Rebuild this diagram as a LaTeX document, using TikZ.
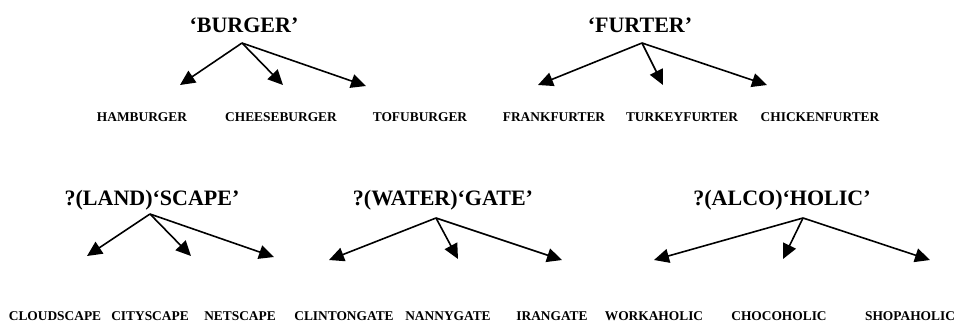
\documentclass[tikz,border=0pt]{standalone}
\usepackage{fontspec}
\setmainfont{Liberation Serif}
\usetikzlibrary{arrows.meta}
\begin{document}
\begin{tikzpicture}[x=1pt,y=-1pt,
  title/.style={anchor=base,inner sep=0pt,font=\fontsize{22}{24}\selectfont\bfseries},
  word/.style={anchor=base,inner sep=0pt,font=\fontsize{13.4}{15}\selectfont\bfseries},
  arr/.style={line width=1.6pt,-{Triangle[length=15pt,width=14pt]}}]
\useasboundingbox (0,0) rectangle (960,325);
% titles
\node[title] (burger) at (244,32) {‘BURGER’};
\node[title] (furter) at (640,32) {‘FURTER’};
\node[title] (scape) at (152,205) {?(LAND)‘SCAPE’};
\node[title] (gate) at (443,205) {?(WATER)‘GATE’};
\node[title] (holic) at (782,205) {?(ALCO)‘HOLIC’};
% apexes
\coordinate (a1) at (242,43);
\coordinate (a2) at (642,43);
\coordinate (a3) at (150,214);
\coordinate (a4) at (436,218);
\coordinate (a5) at (803,218);
% arrow ends
\coordinate (e11) at (180,85);
\coordinate (e12) at (283,85);
\coordinate (e13) at (366,86);
\coordinate (e21) at (538,85);
\coordinate (e22) at (663,85);
\coordinate (e23) at (767,85);
\coordinate (e31) at (87,256);
\coordinate (e32) at (191,256);
\coordinate (e33) at (274,257);
\coordinate (e41) at (329,260);
\coordinate (e42) at (458,259);
\coordinate (e43) at (562,260);
\coordinate (e51) at (654,260);
\coordinate (e52) at (783,259);
\coordinate (e53) at (930,260);
\foreach \i in {1,...,5}{
  \foreach \j in {1,2,3}{
    \draw[arr] (a\i) -- (e\i\j);
  }
}
% words
\node[word] (w11) at (142,121) {HAMBURGER};
\node[word] (w12) at (281,121) {CHEESEBURGER};
\node[word] (w13) at (420,121) {TOFUBURGER};
\node[word] (w21) at (554,121) {FRANKFURTER};
\node[word] (w22) at (682,121) {TURKEYFURTER};
\node[word] (w23) at (820,121) {CHICKENFURTER};
\node[word] (w31) at (55,320) {CLOUDSCAPE};
\node[word] (w32) at (150,320) {CITYSCAPE};
\node[word] (w33) at (240,320) {NETSCAPE};
\node[word] (w41) at (344,320) {CLINTONGATE};
\node[word] (w42) at (448,320) {NANNYGATE};
\node[word] (w43) at (552,320) {IRANGATE};
\node[word] (w51) at (654,320) {WORKAHOLIC};
\node[word] (w52) at (779,320) {CHOCOHOLIC};
\node[word] (w53) at (910,320) {SHOPAHOLIC};
\end{tikzpicture}
\end{document}
